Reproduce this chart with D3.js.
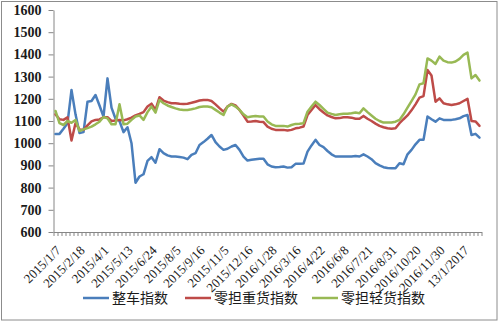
<!DOCTYPE html>
<html><head><meta charset="utf-8">
<script src="https://cdn.jsdelivr.net/npm/d3@7"></script>
<style>
html,body{margin:0;padding:0;background:#fff;}
svg{display:block;}
</style></head><body>
<svg id="chart" width="499" height="321"></svg>
<script>
const seriesNames = ["整车指数", "零担重货指数", "零担轻货指数"];
const seriesColors = ["#4A7EBB", "#BE4B48", "#98B954"];
const tickLabels = ["2015/1/7","2015/2/18","2015/4/1","2015/5/13","2015/6/24","2015/8/5","2015/9/16","2015/11/5","2015/12/16","2016/1/28","2016/3/16","2016/4/22","2016/6/8","2016/7/21","2016/8/31","2016/10/20","2016/11/30","13/1/2017"];
const yTicks = [600, 700, 800, 900, 1000, 1100, 1200, 1300, 1400, 1500, 1600];

const wholeTruck = [1042,1042,1065,1090,1240,1130,1046,1050,1187,1190,
1217,1170,1120,1292,1160,1110,1100,1050,1072,1000,
822,850,860,920,937,912,973,955,945,940,
940,938,935,928,947,955,992,1005,1020,1037,
1005,985,970,975,985,992,970,940,922,925,
928,930,930,905,895,892,893,895,890,892,
907,907,908,962,990,1015,992,982,965,950,
940,940,940,940,940,942,940,950,940,928,
910,900,892,888,887,887,910,905,950,970,
995,1015,1015,1120,1108,1097,1112,1105,1105,1105,
1108,1112,1122,1127,1037,1042,1025];

const ltlHeavy = [1130,1108,1105,1117,1012,1090,1062,1060,1080,1098,
1105,1107,1117,1117,1100,1102,1105,1103,1108,1115,
1125,1132,1140,1165,1178,1150,1207,1192,1185,1180,
1180,1178,1177,1178,1182,1187,1192,1195,1195,1190,
1175,1158,1142,1165,1177,1170,1150,1125,1097,1098,
1100,1097,1095,1075,1065,1060,1060,1060,1057,1060,
1067,1070,1075,1127,1150,1172,1153,1138,1125,1118,
1112,1113,1117,1117,1115,1110,1110,1123,1110,1100,
1088,1078,1072,1067,1065,1067,1090,1108,1125,1148,
1175,1205,1212,1330,1305,1187,1202,1180,1175,1172,
1175,1180,1190,1200,1100,1098,1078];

const ltlLight = [1145,1090,1082,1100,1092,1105,1055,1062,1068,1075,
1085,1097,1118,1112,1085,1085,1175,1085,1088,1105,
1120,1125,1105,1140,1165,1138,1195,1180,1170,1163,
1157,1152,1150,1150,1153,1157,1163,1165,1165,1162,
1150,1138,1127,1165,1175,1165,1150,1130,1117,1120,
1123,1120,1120,1098,1085,1078,1078,1078,1075,1082,
1087,1088,1090,1142,1165,1187,1172,1155,1138,1132,
1127,1130,1133,1133,1135,1138,1135,1157,1140,1125,
1110,1100,1093,1093,1093,1097,1105,1130,1160,1190,
1220,1265,1270,1382,1372,1357,1390,1372,1365,1363,
1368,1380,1398,1408,1292,1307,1282];

const allSeries = [wholeTruck, ltlHeavy, ltlLight];
const categories = d3.range(wholeTruck.length);
const labelStep = 6;

(function () {
const svg = d3.select("#chart");
const W = 499, H = 321;
const mLeft = 53.5, mRight = 481.5, mTop = 10, mBottom = 232;

svg.append("rect").attr("x", 1.5).attr("y", 1.5).attr("width", W - 3.5).attr("height", H - 2.5)
  .attr("fill", "#fff").attr("stroke", "#8c8c8c").attr("stroke-width", 1);

const x = d3.scaleBand().domain(categories).range([mLeft, mRight]).padding(0);
const xEdge = d3.scaleLinear().domain([0, categories.length]).range([mLeft, mRight]);
const y = d3.scaleLinear().domain([600, 1600]).range([mBottom, mTop]);

const yAxis = svg.append("g").attr("transform", `translate(${mLeft},0)`)
  .call(d3.axisLeft(y).tickValues(yTicks).tickFormat(d3.format("d")).tickSize(5).tickSizeOuter(0).tickPadding(7));
yAxis.select(".domain").attr("stroke", "#868686");
yAxis.selectAll(".tick line").attr("stroke", "#868686");
yAxis.selectAll("text").attr("fill", "#1a1a1a")
  .style("font-family", "'Liberation Serif','Times New Roman',serif")
  .style("font-weight", "bold").style("font-size", "14px");

const xAxis = svg.append("g").attr("transform", `translate(0,${mBottom})`)
  .call(d3.axisBottom(xEdge).tickValues(d3.range(categories.length + 1)).tickSize(4).tickSizeOuter(0).tickFormat(""));
xAxis.select(".domain").attr("stroke", "#868686");
xAxis.selectAll(".tick line").attr("stroke", "#868686");

const labelIdx = tickLabels.map((d, k) => k * labelStep);
const xLab = svg.append("g").attr("transform", `translate(0,${mBottom})`)
  .call(d3.axisBottom(x).tickValues(labelIdx).tickSize(0).tickFormat(i => tickLabels[i / labelStep]));
xLab.select(".domain").remove();
xLab.selectAll("text")
  .attr("text-anchor", "end")
  .attr("y", 0).attr("dy", "0.35em")
  .attr("transform", "translate(3,16) rotate(-45)")
  .attr("fill", "#1a1a1a")
  .style("font-family", "'Liberation Serif','Times New Roman',serif")
  .style("font-size", "13px");

const line = d3.line()
  .x((d, i) => x(categories[i]) + x.bandwidth() / 2)
  .y(d => y(d));
allSeries.forEach((s, k) => {
  svg.append("path").datum(s)
    .attr("fill", "none").attr("stroke", seriesColors[k])
    .attr("stroke-width", 2.5).attr("stroke-linejoin", "round").attr("stroke-linecap", "round")
    .attr("d", line);
});

const legendPos = [83, 185, 312];
seriesNames.forEach((n, k) => {
  const g = svg.append("g").attr("transform", `translate(${legendPos[k]},298)`);
  g.append("line").attr("x1", 0).attr("x2", 26).attr("y1", 0).attr("y2", 0)
    .attr("stroke", seriesColors[k]).attr("stroke-width", 2.5);
  g.append("text").attr("x", 29).attr("y", 0).attr("dy", "0.36em")
    .attr("fill", "#1a1a1a")
    .style("font-family", "'Noto Sans CJK SC', sans-serif")
    .style("font-size", "14px")
    .text(n);
});
})();
</script>
</body></html>
